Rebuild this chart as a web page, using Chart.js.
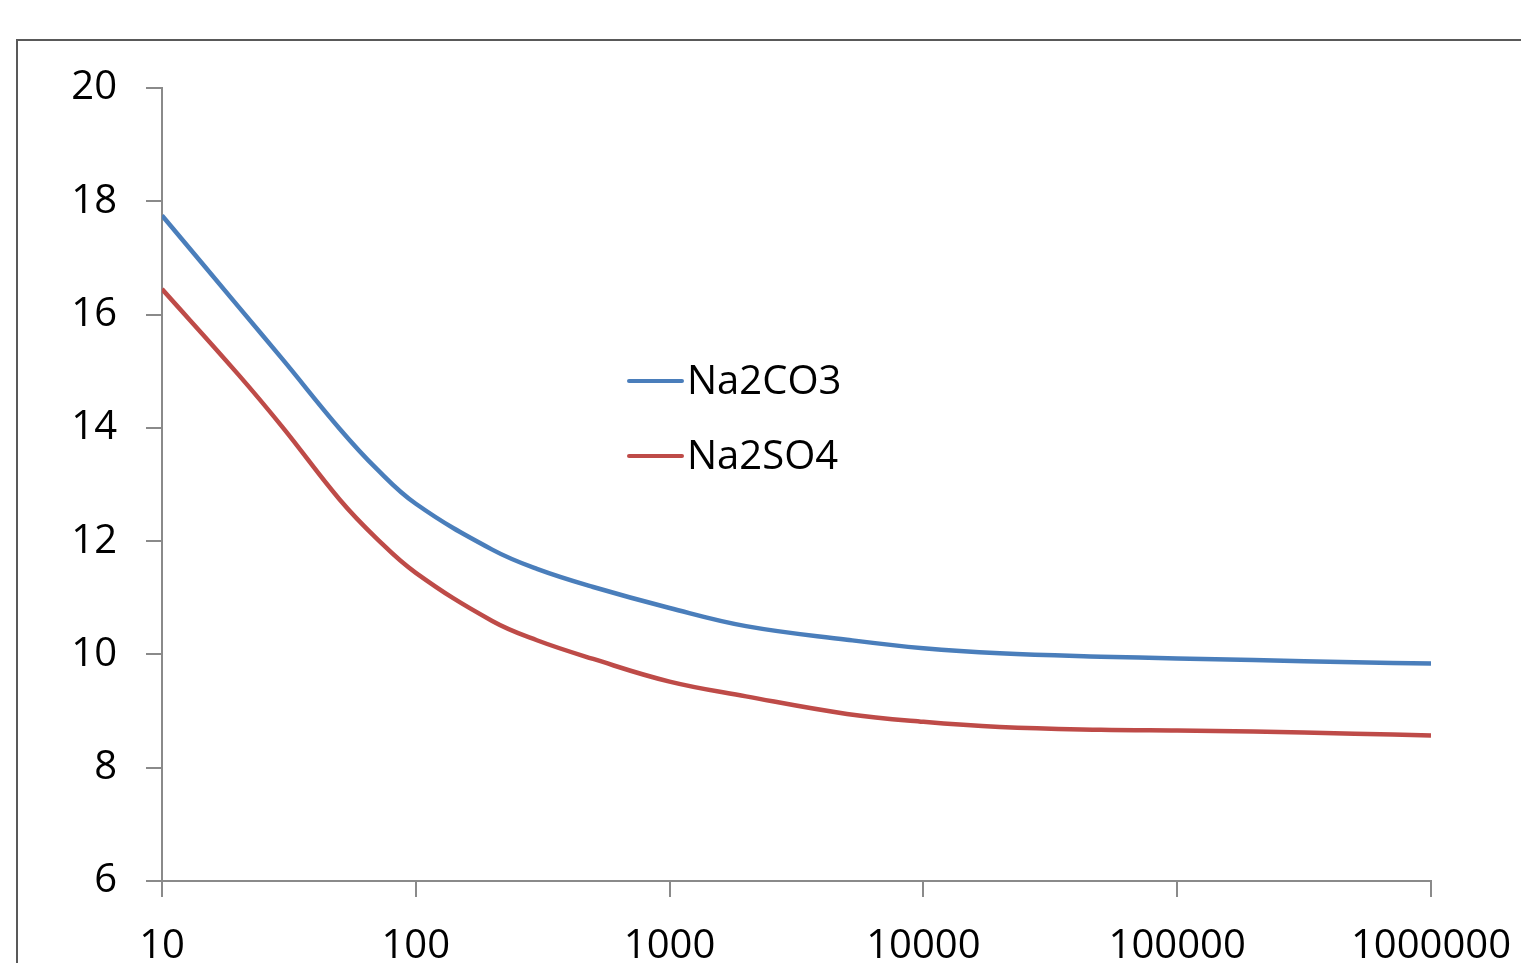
<!DOCTYPE html>
<html>
<head>
<meta charset="utf-8">
<script src="https://cdn.jsdelivr.net/npm/chart.js@4/dist/chart.umd.min.js"></script>
<style>
  html, body { margin: 0; padding: 0; background: #fff; overflow: hidden; }
  canvas { display: block; }
</style>
</head>
<body>
<canvas id="chart" width="1521" height="963"></canvas>
<script>
// values
const concentrations = [10, 20, 30, 50, 70, 100, 200, 300, 500, 1000, 2000, 5000, 10000, 20000, 50000, 100000, 200000, 500000, 1000000];
const na2co3 = [17.75, 16.14, 15.20, 13.99, 13.28, 12.66, 11.85, 11.51, 11.19, 10.82, 10.50, 10.26, 10.11, 10.02, 9.96, 9.93, 9.90, 9.86, 9.84];
const na2so4 = [16.45, 14.94, 14.00, 12.74, 12.05, 11.44, 10.59, 10.25, 9.92, 9.52, 9.26, 8.95, 8.81, 8.72, 8.67, 8.655, 8.64, 8.60, 8.57];
const seriesNames = ['Na2CO3', 'Na2SO4'];
const xTicks = [10, 100, 1000, 10000, 100000, 1000000];
const yTicks = [6, 8, 10, 12, 14, 16, 18, 20];

const FONT = '"Open Sans", sans-serif';
const axisGray = '#8a8a8a';

const toPoints = ys => concentrations.map((c, i) => ({ x: c, y: ys[i] }));

// outer frame + legend drawn inside the plot
const framePlugin = {
  id: 'frame',
  beforeDraw(chart) {
    const c = chart.ctx;
    c.save();
    c.strokeStyle = '#595959';
    c.lineWidth = 2;
    c.strokeRect(17, 40, 3000, 3000);
    c.restore();
  },
  afterDraw(chart) {
    const c = chart.ctx;
    c.save();
    c.font = '40px ' + FONT;
    c.textBaseline = 'middle';
    c.fillStyle = '#000';
    chart.data.datasets.forEach((ds, i) => {
      const y = 381 + i * 75;
      c.strokeStyle = ds.borderColor;
      c.lineWidth = 4;
      c.lineCap = 'round';
      c.beginPath();
      c.moveTo(629, y);
      c.lineTo(682, y);
      c.stroke();
      c.fillText(ds.label, 687, y + 2);
    });
    c.restore();
  }
};

const noSidePadding = s => { s.paddingLeft = 0; s.paddingRight = 0; };

new Chart(document.getElementById('chart'), {
  type: 'line',
  data: {
    datasets: [
      { label: seriesNames[0], data: toPoints(na2co3), borderColor: '#4a7ebb' },
      { label: seriesNames[1], data: toPoints(na2so4), borderColor: '#be4b48' }
    ]
  },
  options: {
    responsive: false,
    devicePixelRatio: 1,
    animation: false,
    layout: { padding: { top: 88, right: 90, bottom: 0, left: 0 } },
    elements: {
      line: { borderWidth: 4.5, tension: 0.4, fill: false },
      point: { radius: 0 }
    },
    plugins: { legend: { display: false }, tooltip: { enabled: false } },
    scales: {
      x: {
        type: 'logarithmic',
        min: 10,
        max: 1000000,
        afterBuildTicks: s => { s.ticks = xTicks.map(v => ({ value: v })); },
        afterFit: s => { s.height = 82; noSidePadding(s); },
        border: { color: axisGray, width: 2 },
        grid: { drawOnChartArea: false, color: axisGray, lineWidth: 2, tickLength: 16 },
        ticks: {
          autoSkip: false, maxRotation: 0, padding: 26,
          color: '#000', font: { family: FONT, size: 40 },
          callback: v => String(v)
        }
      },
      y: {
        min: 6,
        max: 20,
        afterBuildTicks: s => { s.ticks = yTicks.map(v => ({ value: v })); },
        afterFit: s => { s.width = 162; s.paddingTop = 0; s.paddingBottom = 0; },
        border: { color: axisGray, width: 2 },
        grid: { drawOnChartArea: false, color: axisGray, lineWidth: 2, tickLength: 16 },
        ticks: {
          padding: 29,
          color: '#000', font: { family: FONT, size: 40 },
          callback: v => String(v)
        }
      }
    }
  },
  plugins: [framePlugin]
});
</script>
</body>
</html>
